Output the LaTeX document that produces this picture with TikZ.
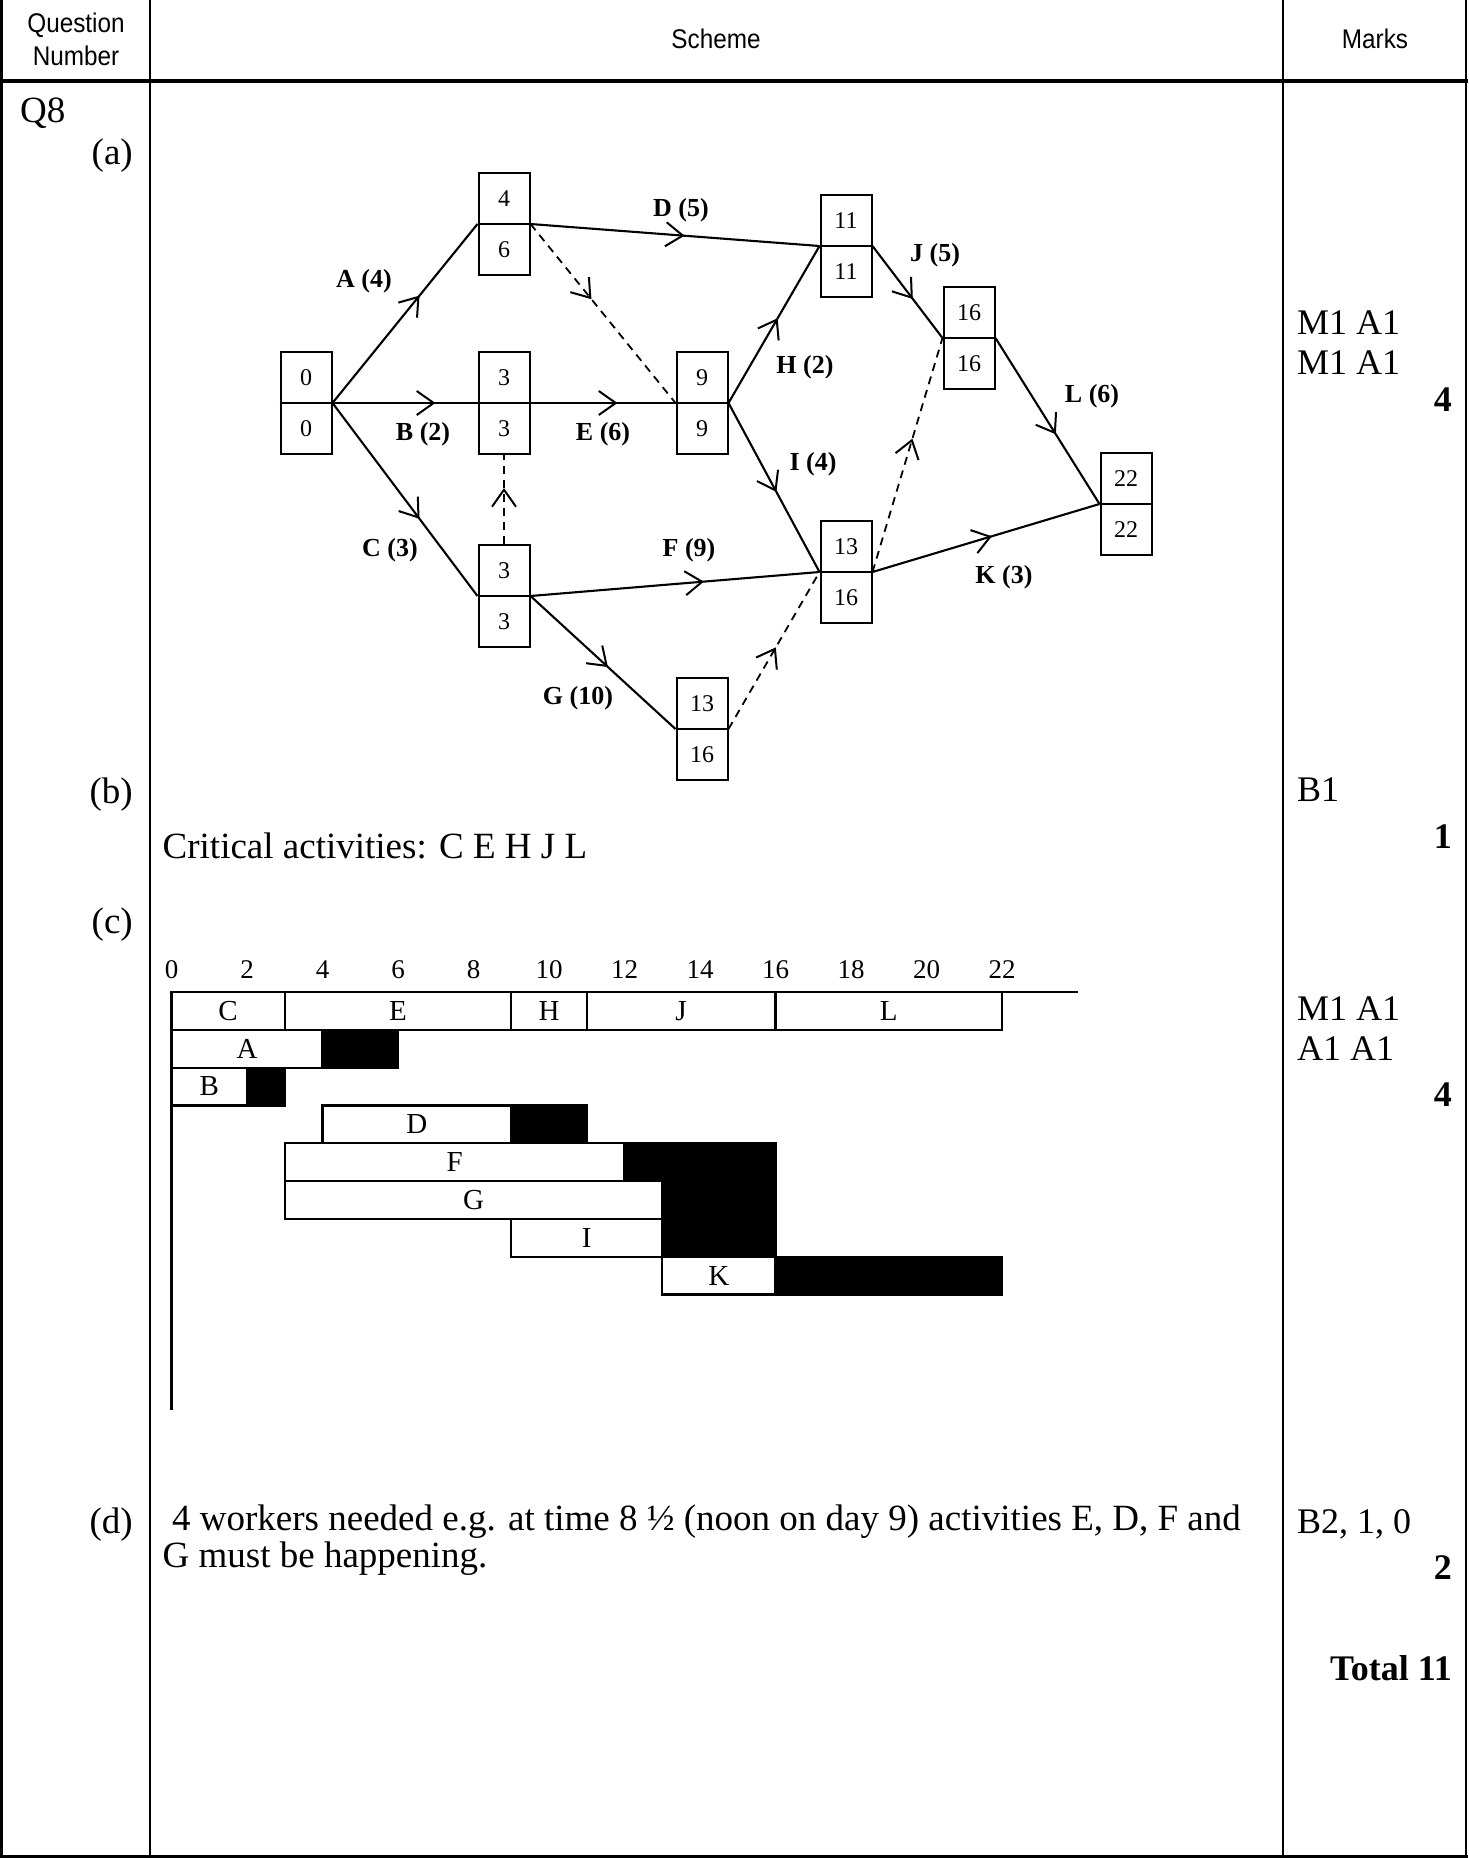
\documentclass[tikz,border=0pt]{standalone}
\usepackage{fontspec}
\setmainfont{Liberation Serif}
\newfontfamily\hdfont[FakeStretch=0.9]{Liberation Sans}
\usetikzlibrary{arrows.meta,decorations.markings}
\newcommand\fszmain{\fontsize{37}{40}\selectfont}
\newcommand\fszmark{\fontsize{36}{40}\selectfont}
\newcommand\fszhead{\hdfont\fontsize{27}{30}\selectfont}
\newcommand\fsznum{\fontsize{24}{26}\selectfont}
\newcommand\fszlab{\fontsize{26}{28}\selectfont}
\newcommand\fszgantt{\fontsize{27}{30}\selectfont}
\newcommand\fszbar{\fontsize{29}{32}\selectfont}
\newcommand\evnode[5]{%
  \node[evbox] (#1) at (#2,#3) {};
  \draw[boxline] (#1.west) -- (#1.east);
  \node[evnum] (#1t) at (#2,#3-25.6) {#4};
  \node[evnum] (#1b) at (#2,#3+25.6) {#5};
}
\begin{document}
\begin{tikzpicture}[x=1pt,y=-1pt,
  evbox/.style={draw,line width=2pt,minimum width=51pt,minimum height=102.5pt,inner sep=0pt},
  boxline/.style={line width=2pt},
  evnum/.style={font=\fsznum,inner sep=0pt},
  elab/.style={font=\fszlab\bfseries,inner sep=0pt},
  edge/.style={line width=2.1pt},
  dum/.style={line width=1.8pt,dash pattern=on 8pt off 6pt},
  midarr/.style={postaction={decorate},decoration={markings,mark=at position #1 with {\arrow{Straight Barb[length=17pt,width=24pt,line width=2pt]}}}},
  tline/.style={line width=2.5pt},
  gline/.style={line width=2.2pt},
  txt/.style={font=\fszmain,inner sep=0pt},
  mk/.style={font=\fszmark,inner sep=0pt,anchor=base west},
  mkb/.style={font=\fszmark\bfseries,inner sep=0pt,anchor=base east},
  hd/.style={font=\fszhead,inner sep=0pt,anchor=base},
  glab/.style={font=\fszgantt,inner sep=0pt},
  blab/.style={font=\fszbar,inner sep=0pt}
]
\fill[white] (0,0) rectangle (1468,1858);
\useasboundingbox (0,0) rectangle (1468,1858);

% ---------- table ----------
\draw[tline] (1.5,0) -- (1.5,1856.5);
\draw[tline] (150,0) -- (150,1856.5);
\draw[tline] (1283,0) -- (1283,1856.5);
\draw[tline] (1466,0) -- (1466,1856.5);
\draw[tline] (0,1856.5) -- (1468,1856.5);
\draw[line width=4pt] (0,80.5) -- (1468,80.5);

\node[hd] (hq1) at (76,32) {Question};
\node[hd] (hq2) at (76,65) {Number};
\node[hd] (hs) at (716,48) {Scheme};
\node[hd] (hm) at (1375,48) {Marks};

\node[txt,anchor=base west] (q8) at (20,122) {Q8};
\node[txt,anchor=base east] (pa) at (133,164) {(a)};
\node[txt,anchor=base east] (pb) at (133,803) {(b)};
\node[txt,anchor=base east] (pc) at (133,933) {(c)};
\node[txt,anchor=base east] (pd) at (133,1533) {(d)};

\node[txt,anchor=base west] (crit) at (162.5,858) {Critical activities: C E H J L};
\node[txt,anchor=base west] (d1) at (172,1530) {4 workers needed e.g. at time 8 ½ (noon on day 9) activities E, D, F and};
\node[txt,anchor=base west] (d2) at (162.5,1567) {G must be happening.};

\node[mk] (m1) at (1297,334) {M1 A1};
\node[mk] (m2) at (1297,374) {M1 A1};
\node[mkb] (m3) at (1452,411) {4};
\node[mk] (m4) at (1297,801) {B1};
\node[mkb] (m5) at (1452,848) {1};
\node[mk] (m6) at (1297,1020) {M1 A1};
\node[mk] (m7) at (1297,1060) {A1 A1};
\node[mkb] (m8) at (1452,1106) {4};
\node[mk] (m9) at (1297,1533) {B2, 1, 0};
\node[mkb] (m10) at (1452,1579) {2};
\node[mkb] (m11) at (1452,1680) {Total 11};

% ---------- network ----------
\evnode{n0}{306}{403}{0}{0}
\evnode{n1}{504}{224}{4}{6}
\evnode{n2}{504}{403}{3}{3}
\evnode{n3}{504}{596}{3}{3}
\evnode{n4}{702}{403}{9}{9}
\evnode{n5}{846}{246}{11}{11}
\evnode{n6}{969}{338}{16}{16}
\evnode{n7}{846}{572}{13}{16}
\evnode{n8}{702}{729}{13}{16}
\evnode{n9}{1126}{504}{22}{22}

\draw[edge,midarr=0.6] (n0.east) -- (n1.west);
\draw[edge,midarr=0.71] (n0.east) -- (n2.west);
\draw[edge,midarr=0.6] (n0.east) -- (n3.west);
\draw[edge,midarr=0.533] (n1.east) -- (n5.west);
\draw[edge,midarr=0.6] (n2.east) -- (n4.west);
\draw[edge,midarr=0.6] (n3.east) -- (n7.west);
\draw[edge,midarr=0.534] (n3.east) -- (n8.west);
\draw[edge,midarr=0.54] (n4.east) -- (n5.west);
\draw[edge,midarr=0.526] (n4.east) -- (n7.west);
\draw[edge,midarr=0.576] (n5.east) -- (n6.west);
\draw[edge,midarr=0.58] (n6.east) -- (n9.west);
\draw[edge,midarr=0.526] (n7.east) -- (n9.west);

\draw[dum,midarr=0.42] (n1.east) -- (n4.west);
\draw[dum,midarr=0.63] (n3.north) -- (n2.south);
\draw[dum,midarr=0.52] (n8.east) -- (n7.west);
\draw[dum,midarr=0.57] (n7.east) -- (n6.west);

\node[elab] (lA) at (364,281) {A (4)};
\node[elab] (lD) at (681,210) {D (5)};
\node[elab] (lB) at (423,434) {B (2)};
\node[elab] (lE) at (603,434) {E (6)};
\node[elab] (lC) at (390,550) {C (3)};
\node[elab] (lF) at (689,550) {F (9)};
\node[elab] (lG) at (578,698) {G (10)};
\node[elab] (lH) at (805,367) {H (2)};
\node[elab] (lI) at (813,464) {I (4)};
\node[elab] (lJ) at (935,255) {J (5)};
\node[elab] (lL) at (1092,396) {L (6)};
\node[elab] (lK) at (1004,577) {K (3)};

% ---------- Gantt chart ----------
\foreach \t in {0,2,...,22} {
  \node[glab,anchor=base] (ax\t) at (171.5+37.75*\t,978) {\t};
}
\begin{scope}[shift={(171.5,992)},x=37.75pt,y=-37.8pt]
  \draw[gline] (0,0) -- (24.01,0);
  \draw[gline] (0,0) -- (0,11.06);
  % row 0
  \draw[gline] (0,0) rectangle (3,1);
  \draw[gline] (3,0) rectangle (9,1);
  \draw[gline] (9,0) rectangle (11,1);
  \draw[gline] (11,0) rectangle (16,1);
  \draw[gline] (16,0) rectangle (22,1);
  \node[blab] (gC) at (1.5,0.5) {C};
  \node[blab] (gE) at (6,0.5) {E};
  \node[blab] (gH) at (10,0.5) {H};
  \node[blab] (gJ) at (13.5,0.5) {J};
  \node[blab] (gL) at (19,0.5) {L};
  % row 1
  \draw[gline] (0,1) rectangle (4,2);
  \filldraw[gline,fill=black] (4,1) rectangle (6,2);
  \node[blab] (gA) at (2,1.5) {A};
  % row 2
  \draw[gline] (0,2) rectangle (2,3);
  \filldraw[gline,fill=black] (2,2) rectangle (3,3);
  \node[blab] (gB) at (1,2.5) {B};
  % row 3
  \draw[gline] (4,3) rectangle (9,4);
  \filldraw[gline,fill=black] (9,3) rectangle (11,4);
  \node[blab] (gD) at (6.5,3.5) {D};
  % row 4
  \draw[gline] (3,4) rectangle (12,5);
  \filldraw[gline,fill=black] (12,4) rectangle (16,5);
  \node[blab] (gF) at (7.5,4.5) {F};
  % row 5
  \draw[gline] (3,5) rectangle (13,6);
  \filldraw[gline,fill=black] (13,5) rectangle (16,6);
  \node[blab] (gG) at (8,5.5) {G};
  % row 6
  \draw[gline] (9,6) rectangle (13,7);
  \filldraw[gline,fill=black] (13,6) rectangle (16,7);
  \node[blab] (gI) at (11,6.5) {I};
  % row 7
  \draw[gline] (13,7) rectangle (16,8);
  \filldraw[gline,fill=black] (16,7) rectangle (22,8);
  \node[blab] (gK) at (14.5,7.5) {K};
\end{scope}
\end{tikzpicture}
\end{document}
